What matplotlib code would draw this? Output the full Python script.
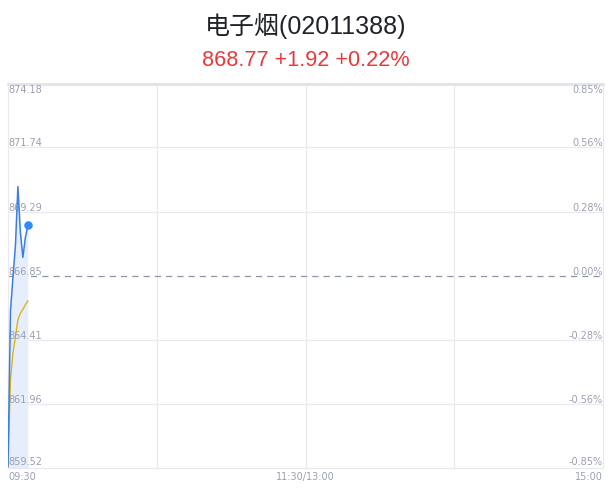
import numpy as np
import matplotlib.pyplot as plt

plt.rcParams['font.family'] = ['Noto Sans CJK SC', 'DejaVu Sans']

# data
title = "电子烟(02011388)"
subtitle = "868.77 +1.92 +0.22%"
prev_close = 866.85
minutes = [0, 1, 2, 3, 4, 5, 6, 7, 8]
price = [859.60, 865.50, 866.80, 868.00, 870.25, 868.50, 867.55, 868.30, 868.77]
avg_price = [859.52, 862.90, 863.90, 864.53, 865.17, 865.42, 865.57, 865.74, 865.89]
y_ticks = [859.52, 861.96, 864.41, 866.85, 869.29, 871.74, 874.18]
pct_labels = ["-0.85%", "-0.56%", "-0.28%", "0.00%", "0.28%", "0.56%", "0.85%"]
x_ticks = [0, 120, 240]
x_labels = ["09:30", "11:30/13:00", "15:00"]

grid_c = '#e9e9ef'
lab_c = '#9aa0b2'

fig = plt.figure(figsize=(6.11, 4.92), dpi=100)
fig.text(0.5, 0.948, title, ha='center', va='center', fontsize=18, color='#1f2329',
         family=['Liberation Sans', 'Noto Sans CJK SC'])
fig.text(0.5, 0.877, subtitle, ha='center', va='center', fontsize=15.6, color='#e8393a',
         family=['Liberation Sans', 'DejaVu Sans'])

ax = fig.add_axes([8/611, 24/492, 595/611, 384.5/492])
ymin, ymax = y_ticks[0], y_ticks[-1]
ax.set_xlim(0, 240)
ax.set_ylim(ymin, ymax)

#grid
for v in y_ticks[1:-1]:
    if v == prev_close:
        ax.axhline(v, color='#8c96aa', lw=0.9, ls=(0, (5, 4)), zorder=2)
    else:
        ax.axhline(v, color=grid_c, lw=0.9, zorder=1)
for x in [60, 120, 180]:
    ax.axvline(x, color=grid_c, lw=0.9, zorder=1)

for s in ['right', 'bottom', 'left']:
    ax.spines[s].set_color(grid_c)
    ax.spines[s].set_linewidth(0.9)
ax.spines['top'].set_color('#e2e2e8')
ax.spines['top'].set_linewidth(2)
ax.set_xticks([])
ax.set_yticks([])

#lines
ax.fill_between(minutes, price, ymin, color='#e6eefb', lw=0, zorder=2)
ax.plot(minutes, price, color='#3a7ee4', lw=1.1, zorder=4)
ax.plot(minutes, avg_price, color='#d9b51c', lw=1.0, zorder=3)
ax.scatter([minutes[-1]], [price[-1]], s=26, color='#2f8cff', zorder=5)

#labels
for i, v in enumerate(y_ticks):
    if i == 0:
        va, off = 'bottom', 1
    elif i == len(y_ticks) - 1:
        va, off = 'top', -1
    else:
        va, off = 'center', 3
    ax.annotate(f"{v:.2f}", (0, v), xytext=(0, off), textcoords='offset points',
                ha='left', va=va, fontsize=7, color=lab_c, family='DejaVu Sans')
    ax.annotate(pct_labels[i], (240, v), xytext=(0, off), textcoords='offset points',
                ha='right', va=va, fontsize=7, color=lab_c, family='DejaVu Sans')

for x, lab, ha in zip(x_ticks, x_labels, ['left', 'center', 'right']):
    ax.annotate(lab, (x, ymin), xytext=(0, -3), textcoords='offset points',
                ha=ha, va='top', fontsize=7, color=lab_c, family='DejaVu Sans',
                annotation_clip=False)

fig.savefig('out.png', dpi=100)
